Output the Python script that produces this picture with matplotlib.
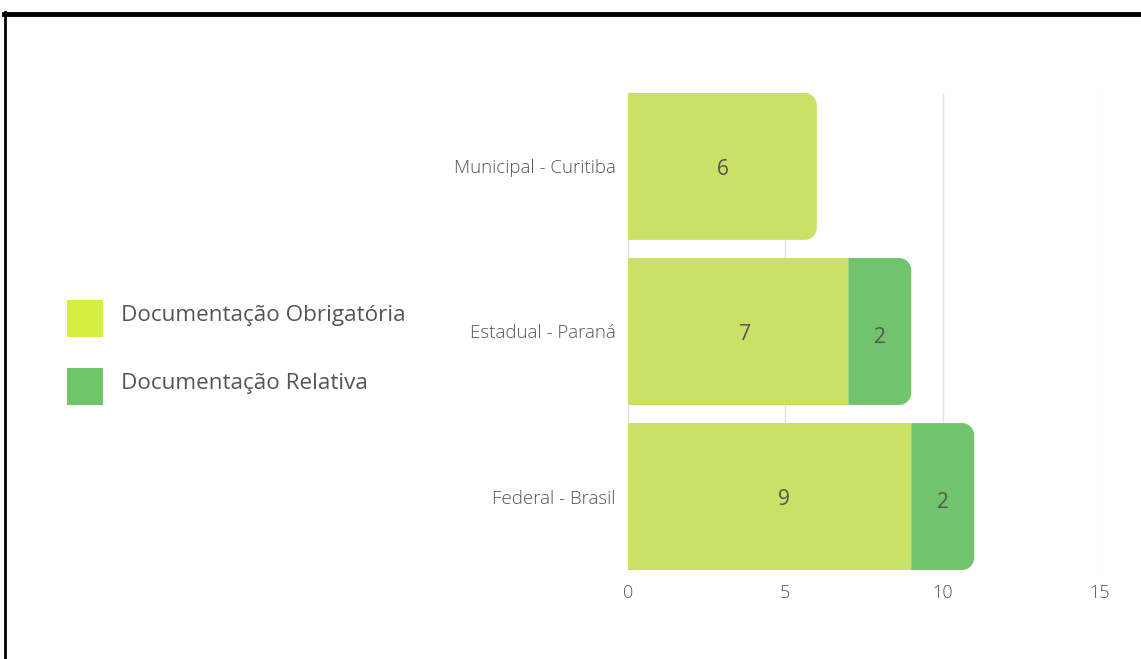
import matplotlib
matplotlib.use('Agg')
import matplotlib.pyplot as plt
from matplotlib.path import Path
from matplotlib.patches import PathPatch, Rectangle
from matplotlib.lines import Line2D

# dados
categorias = ['Municipal - Curitiba', 'Estadual - Paraná', 'Federal - Brasil']
obrigatoria = [6, 7, 9]
relativa = [0, 2, 2]
series_nomes = ['Documentação Obrigatória', 'Documentação Relativa']
xticks = [0, 5, 10, 15]

# deslocamento dos rotulos (como no original)
desloc_rotulo = [0.0, 0.23, 0.44]

cor_obrig = '#cbe066'
cor_rel = '#72c46c'
cor_leg = ['#d5ef3e', '#70c46a']
cor_texto = '#555555'

plt.rcParams['font.family'] = ['Open Sans', 'DejaVu Sans']

fig = plt.figure(figsize=(11.41, 6.59), dpi=100)
ax = fig.add_axes([0.5504, 0.1351, 0.4137, 0.7238])

altura = 0.89
ax.set_xlim(0, 15)
ax.set_ylim(len(categorias) - 1 + altura / 2, -altura / 2)


def barra_arredondada(ax, y, esq, larg, alt, cor, rx, ry):
    # retangulo com os cantos da direita arredondados
    x0, x1 = esq, esq + larg
    y0, y1 = y - alt / 2, y + alt / 2
    k = 0.5523
    verts = [(x0, y0), (x1 - rx, y0),
             (x1 - rx + k * rx, y0), (x1, y0 + ry - k * ry), (x1, y0 + ry),
             (x1, y1 - ry),
             (x1, y1 - ry + k * ry), (x1 - rx + k * rx, y1), (x1 - rx, y1),
             (x0, y1), (x0, y0)]
    codes = [Path.MOVETO, Path.LINETO,
             Path.CURVE4, Path.CURVE4, Path.CURVE4,
             Path.LINETO,
             Path.CURVE4, Path.CURVE4, Path.CURVE4,
             Path.LINETO, Path.CLOSEPOLY]
    ax.add_patch(PathPatch(Path(verts, codes), facecolor=cor, edgecolor='none', zorder=3))


rx, ry = 0.38, 0.075
for i, cat in enumerate(categorias):
    o, r = obrigatoria[i], relativa[i]
    if r > 0:
        ax.barh(i, o, height=altura, color=cor_obrig, zorder=3)
        barra_arredondada(ax, i, o, r, altura, cor_rel, rx, ry)
        ax.text(o + r / 2, i + 0.035, str(r), ha='center', va='center',
                fontsize=15, color=cor_texto, zorder=4)
    else:
        barra_arredondada(ax, i, 0, o, altura, cor_obrig, rx, ry)
    ax.text(o / 2 + desloc_rotulo[i], i + 0.02, str(o), ha='center', va='center',
            fontsize=15, color=cor_texto, zorder=4)

ax.set_yticks(range(len(categorias)))
ax.set_yticklabels(categorias)
ax.set_xticks(xticks)
ax.tick_params(axis='both', length=0, labelcolor=cor_texto)
ax.tick_params(axis='y', pad=9, labelsize=13.5)
ax.tick_params(axis='x', pad=10, labelsize=13)
for lab in ax.get_yticklabels() + ax.get_xticklabels():
    lab.set_fontweight('light')
ax.grid(axis='x', color='#e2e2e2', linewidth=1, zorder=0)
for s in ax.spines.values():
    s.set_visible(False)

# legenda
for j, nome in enumerate(series_nomes):
    ytop = 300 + j * 68
    fig.patches.append(Rectangle((67 / 1141, 1 - (ytop + 37) / 659), 36 / 1141, 37 / 659,
                                 transform=fig.transFigure, facecolor=cor_leg[j],
                                 edgecolor='none'))
    fig.text(121 / 1141, 1 - (ytop + 16) / 659, nome, ha='left', va='center',
             fontsize=16.2, color=cor_texto)

# moldura
fig.add_artist(Line2D([4 / 1141, 1], [1 - 14 / 659, 1 - 14 / 659], color='black',
                      linewidth=3.5, transform=fig.transFigure))
fig.add_artist(Line2D([5 / 1141, 5 / 1141], [0, 1 - 12 / 659], color='black',
                      linewidth=2, transform=fig.transFigure))

fig.savefig('out.png', dpi=100, facecolor='white')
